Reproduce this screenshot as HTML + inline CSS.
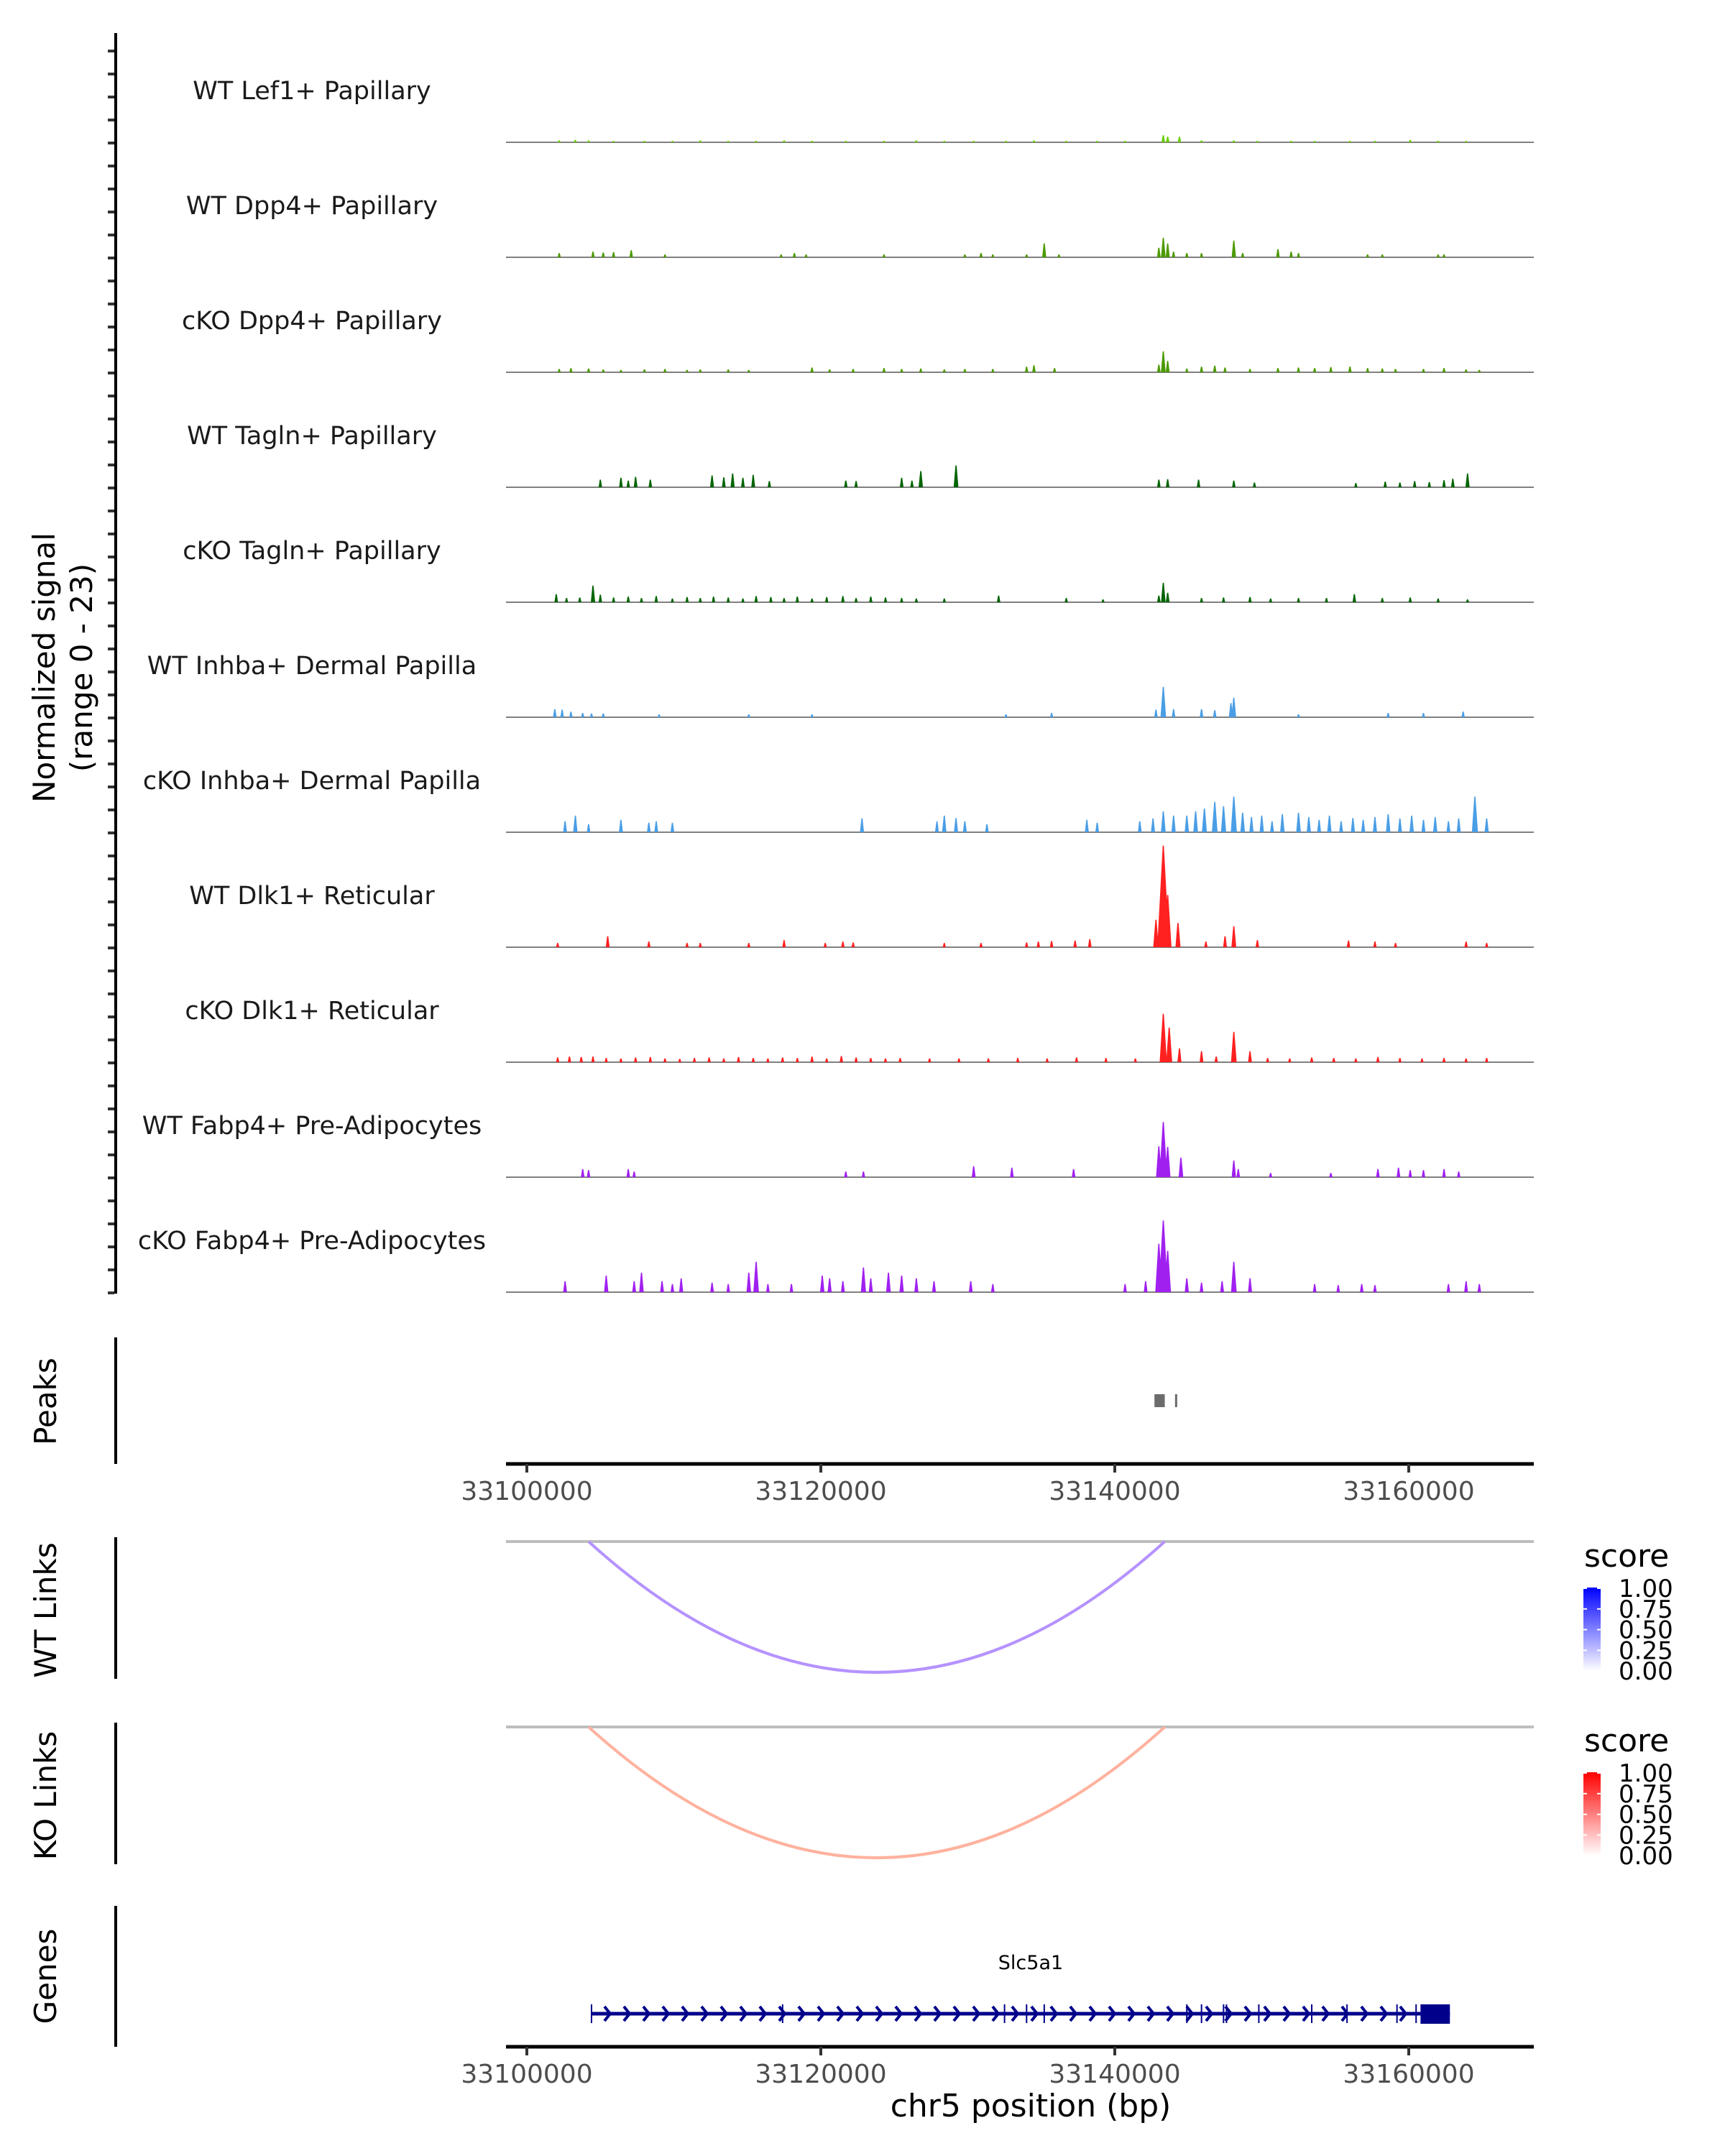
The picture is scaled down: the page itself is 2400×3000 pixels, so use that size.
<!DOCTYPE html>
<html><head><meta charset="utf-8"><style>
html,body{margin:0;padding:0;background:#fff}
svg{display:block;font-family:"DejaVu Sans","Liberation Sans",sans-serif}
</style></head><body>
<svg id="chart" width="2400" height="3000" viewBox="0 0 2400 3000" xmlns="http://www.w3.org/2000/svg">
<defs>
<linearGradient id="gBlue" x1="0" y1="1" x2="0" y2="0"><stop offset="0" stop-color="#ffffff"/><stop offset="1" stop-color="#0000ff"/></linearGradient>
<linearGradient id="gRed" x1="0" y1="1" x2="0" y2="0"><stop offset="0" stop-color="#ffffff"/><stop offset="1" stop-color="#ff0000"/></linearGradient>
</defs>
<g id="tracks"></g>
<text transform="translate(76,929) rotate(-90)" text-anchor="middle" font-size="42" fill="#000">Normalized signal</text>
<text transform="translate(128,929) rotate(-90)" text-anchor="middle" font-size="42" fill="#000">(range 0 - 23)</text>
<g id="peaks"></g>
<g id="links"></g>
<g id="genes"></g>
</svg>
<script>
// ---- data ----
const trackNames = ["WT Lef1+ Papillary","WT Dpp4+ Papillary","cKO Dpp4+ Papillary","WT Tagln+ Papillary","cKO Tagln+ Papillary","WT Inhba+ Dermal Papilla","cKO Inhba+ Dermal Papilla","WT Dlk1+ Reticular","cKO Dlk1+ Reticular","WT Fabp4+ Pre-Adipocytes","cKO Fabp4+ Pre-Adipocytes"];
const trackColors = ["#66cc00","#4c9a00","#4c9a00","#006400","#006400","#4a9ee6","#4a9ee6","#ff2020","#ff2020","#a020f0","#a020f0"];
// peak positions in kb offset from 33,100,000 and heights in normalized signal
const pos0 = [2.2,3.3,4.2,5.9,8.0,9.9,11.8,13.7,15.6,17.5,19.4,21.7,24.3,26.5,28.4,30.4,32.6,34.5,36.7,38.8,40.7,43.3,43.6,44.4,45.9,48.1,49.7,52.0,53.6,56.0,57.7,60.1,62.0,63.9];
const val0 = [0.4,0.5,0.4,0.3,0.3,0.3,0.4,0.3,0.3,0.4,0.3,0.3,0.3,0.4,0.3,0.3,0.3,0.4,0.3,0.3,0.3,1.5,1.2,1.2,0.4,0.4,0.3,0.3,0.3,0.3,0.3,0.5,0.3,0.3];
const pos1 = [2.2,4.5,5.2,5.9,7.1,9.4,17.3,18.2,19.0,24.3,29.8,30.9,31.7,34.0,35.2,36.2,43.0,43.3,43.6,44.0,44.9,45.9,48.1,48.7,51.1,52.0,52.5,57.2,58.2,62.0,62.4];
const val1 = [0.9,1.2,1.0,1.1,1.5,0.6,0.6,0.9,0.6,0.6,0.6,0.9,0.6,0.6,2.9,0.6,2.0,4.1,2.9,1.2,0.9,0.9,3.5,0.9,1.7,1.2,0.9,0.6,0.6,0.6,0.6];
const pos2 = [2.2,3.0,4.2,5.2,6.4,8.0,9.4,10.9,11.8,13.7,15.1,19.4,20.6,22.2,24.3,25.5,26.8,28.4,29.8,31.7,34.0,34.5,35.9,43.0,43.3,43.6,44.9,45.9,46.8,47.5,49.2,51.1,52.5,53.6,54.7,56.0,57.2,58.2,59.1,61.0,62.4,63.9,64.8];
const val2 = [0.7,0.9,0.8,0.6,0.5,0.6,0.7,0.5,0.6,0.6,0.5,1.0,0.6,0.7,0.9,0.7,0.8,0.6,0.7,0.7,1.2,1.5,0.9,1.6,4.4,2.4,0.8,1.2,1.4,1.0,0.7,0.9,1.0,0.9,1.1,1.2,0.9,0.8,0.7,0.7,0.9,0.6,0.5];
const pos3 = [5.0,6.4,6.9,7.4,8.4,12.6,13.4,14.0,14.7,15.4,16.5,21.7,22.4,25.5,26.2,26.8,29.2,43.0,43.6,45.7,48.1,49.5,56.4,58.4,59.4,60.4,61.4,62.4,63.0,64.0];
const val3 = [1.6,2.0,1.4,2.2,1.6,2.5,2.1,2.9,2.0,2.6,1.3,1.4,1.3,2.0,1.4,3.4,4.6,1.6,1.7,1.6,1.4,1.0,0.9,1.2,1.0,1.3,1.1,1.5,1.8,2.9];
const pos4 = [2.0,2.7,3.6,4.5,5.0,5.9,6.9,7.8,8.8,9.9,10.9,11.8,12.7,13.7,14.7,15.6,16.6,17.5,18.4,19.4,20.4,21.5,22.4,23.4,24.4,25.5,26.5,28.4,32.1,36.7,39.2,43.0,43.3,43.6,45.9,47.4,49.2,50.6,52.5,54.4,56.3,58.2,60.1,62.0,64.0];
const val4 = [1.7,0.9,1.0,3.5,1.6,1.0,1.2,0.9,1.3,0.8,1.1,0.9,1.2,1.0,0.8,1.3,1.1,0.9,1.2,0.8,1.1,1.3,0.9,1.2,1.0,0.9,0.8,0.8,1.4,0.9,0.6,1.4,4.1,2.0,0.9,1.0,1.1,0.8,0.9,0.9,1.7,0.9,1.0,0.8,0.6];
const pos5 = [1.9,2.4,3.0,3.8,4.4,5.2,9.0,15.1,19.4,32.6,35.7,42.8,43.3,44.0,45.9,46.8,47.9,48.1,52.5,58.6,61.0,63.7];
const val5 = [1.7,1.6,1.2,0.9,0.8,0.8,0.6,0.6,0.6,0.6,0.9,1.6,6.4,1.7,1.7,1.5,3.0,4.1,0.6,0.9,0.9,1.2];
const pos6 = [2.6,3.3,4.2,6.4,8.3,8.8,9.9,22.8,27.9,28.4,29.2,29.8,31.3,38.1,38.8,41.7,42.6,43.3,44.0,44.9,45.5,46.1,46.8,47.4,48.1,48.7,49.3,50.0,50.7,51.4,52.5,53.2,53.9,54.6,55.4,56.2,56.9,57.7,58.6,59.4,60.2,61.0,61.8,62.7,63.4,64.5,65.3];
const val6 = [2.3,3.5,1.7,2.6,2.0,2.3,2.0,2.9,2.3,3.5,3.0,2.3,1.7,2.6,2.0,2.3,2.9,4.4,3.5,3.5,4.4,5.0,6.4,5.5,7.5,4.1,3.2,3.5,2.3,3.8,4.1,3.2,2.6,3.5,2.3,3.0,2.6,3.2,3.8,2.9,3.5,2.6,3.2,2.3,2.9,7.5,2.9];
const pos7 = [2.1,5.5,8.3,10.9,11.8,15.1,17.5,20.3,21.5,22.2,28.4,30.9,34.0,34.8,35.7,37.3,38.3,42.8,43.3,43.6,44.3,46.2,47.5,48.1,49.7,55.9,57.7,59.1,63.9,65.3];
const val7 = [0.9,2.3,1.2,0.9,0.9,0.9,1.5,0.9,1.2,1.0,0.9,0.9,1.0,1.2,1.3,1.4,1.7,5.8,21.4,11.0,5.1,1.2,2.3,4.4,1.5,1.4,1.2,0.9,1.2,0.9];
const pos8 = [2.1,2.9,3.7,4.5,5.4,6.4,7.4,8.4,9.4,10.4,11.4,12.4,13.4,14.4,15.4,16.4,17.4,18.4,19.4,20.4,21.4,22.4,23.4,24.4,25.4,27.4,29.4,31.4,33.4,35.4,37.4,39.4,41.4,43.3,43.7,44.4,45.9,46.9,48.1,49.2,50.4,51.9,53.4,54.9,56.4,57.9,59.4,60.9,62.4,63.9,65.3];
const val8 = [1.0,1.2,1.1,1.2,0.9,0.8,1.0,1.1,0.8,0.7,0.9,1.0,0.8,1.1,0.9,0.8,1.0,0.9,1.2,0.8,1.3,1.0,0.9,0.8,0.9,0.8,0.8,0.8,0.9,0.8,1.0,0.9,0.8,10.2,7.3,2.9,2.3,1.2,6.4,2.3,0.9,0.8,1.0,0.9,0.8,1.1,0.9,0.8,0.9,0.8,0.9];
const pos9 = [3.8,4.2,6.9,7.3,21.7,22.9,30.4,33.0,37.2,43.0,43.3,43.6,44.5,48.1,48.4,50.6,54.7,57.9,59.3,60.1,61.0,62.4,63.4];
const val9 = [1.7,1.5,1.7,1.2,1.2,1.2,2.3,2.0,1.7,6.5,11.6,6.4,4.1,3.5,1.7,0.9,0.9,1.7,2.0,1.5,1.5,1.7,1.2];
const pos10 = [2.6,5.4,7.3,7.8,9.2,9.9,10.5,12.6,13.7,15.1,15.6,16.4,18.0,20.1,20.6,21.5,22.9,23.4,24.6,25.5,26.5,27.7,30.2,31.7,40.7,42.1,43.0,43.3,43.6,44.9,45.9,47.3,48.1,49.2,53.6,55.2,56.8,57.7,62.7,63.9,64.8];
const val10 = [2.3,3.5,2.3,4.1,2.3,1.7,2.9,2.0,1.7,4.1,6.4,1.7,1.7,3.5,2.9,2.3,5.2,2.9,4.1,3.5,2.9,2.3,2.3,1.7,1.7,2.3,10.2,15.1,8.7,2.9,2.0,2.3,6.4,2.9,1.7,1.5,1.7,1.5,1.7,2.3,1.7];
const trackPos = [pos0,pos1,pos2,pos3,pos4,pos5,pos6,pos7,pos8,pos9,pos10];
const trackVal = [val0,val1,val2,val3,val4,val5,val6,val7,val8,val9,val10];
const xTicks = [0,20,40,60];
const xTickLabels = ["33100000","33120000","33140000","33160000"];
const peakStarts = [42.7,44.1];
const peakEnds = [43.4,44.2];
const linkStarts = [4.2];
const linkEnds = [43.4];
const legendTicks = ["1.00","0.75","0.50","0.25","0.00"];
const geneStart = 4.4, geneEnd = 62.8, utrStart = 60.8;
const exonLines = [4.4,17.4,32.5,34.0,35.2,44.9,45.9,47.4,47.6,49.8,53.4,55.8,59.2,60.5];

// ---- scales ----
const X0 = 733, PXKB = 20.45;
const xs = kb => X0 + kb * PXKB;
const YMAX = 23, TRACKH = 152;
const ys = (v, base) => base - v / YMAX * TRACKH;
const NS = "http://www.w3.org/2000/svg";
function mk(tag, attrs, parent){const e=document.createElementNS(NS,tag);for(const k in attrs)e.setAttribute(k,attrs[k]);parent.appendChild(e);return e;}

// ---- signal tracks ----
const tg = document.getElementById('tracks');
const ax = mk('line',{x1:161,y1:46,x2:161,y2:1800,stroke:'#000','stroke-width':4},tg);


for(let y=71;y<=1800;y+=32){
  const t=mk('line',{x1:150,y1:y,x2:159,y2:y,stroke:'#333','stroke-width':4},tg);
  
  
}
trackNames.forEach((name,i)=>{
  const base = 198 + 160*i;
  const g = mk('g',{},tg);
  
  
  const lab = mk('text',{x:434,y:base-60,'text-anchor':'middle','font-size':35,fill:'#1a1a1a'},g);
  lab.textContent = name;
  
  
  const bl = mk('line',{x1:704,y1:base,x2:2134,y2:base,stroke:'#808080','stroke-width':2},g);
  
  
  const P = trackPos[i], V = trackVal[i];
  let d='';
  for(let j=0;j<P.length;j++){
    const x=xs(P[j]), y=ys(V[j],base), w=2+V[j]*0.3;
    d+=`M${(x-w).toFixed(1)},${base} L${(x-0.8).toFixed(1)},${y.toFixed(1)} L${(x+0.8).toFixed(1)},${y.toFixed(1)} L${(x+w).toFixed(1)},${base} Z `;
  }
  const p = mk('path',{d:d,fill:trackColors[i]},g);
  
  
});

// ---- peaks ----
const pg = document.getElementById('peaks');
const pl = mk('line',{x1:161,y1:1861,x2:161,y2:2037,stroke:'#000','stroke-width':4},pg);


const pt = mk('text',{transform:'translate(78,1950) rotate(-90)','text-anchor':'middle','font-size':42,fill:'#000'},pg);
pt.textContent='Peaks';


peakStarts.forEach((s,i)=>{
  const r=mk('rect',{x:xs(s),y:1940,width:Math.max(3,xs(peakEnds[i])-xs(s)),height:18,fill:'#6b6b6b'},pg);
  
  
});
function xAxis(y, parent){
  const l=mk('line',{x1:704,y1:y,x2:2134,y2:y,stroke:'#000','stroke-width':5},parent);
  
  
  xTicks.forEach((t,i)=>{
    const tk=mk('line',{x1:xs(t),y1:y,x2:xs(t),y2:y+12,stroke:'#333','stroke-width':4},parent);
    
    
    const tl=mk('text',{x:xs(t),y:y+50,'text-anchor':'middle','font-size':36,fill:'#4d4d4d'},parent);
    tl.textContent=xTickLabels[i];
    
    
  });
}
xAxis(2037, pg);

// ---- links ----
const lg = document.getElementById('links');
function linkPanel(top, bottom, title, arcColor, grad, legendY){
  const a=mk('line',{x1:161,y1:top-6,x2:161,y2:bottom,stroke:'#000','stroke-width':4},lg);
  
  
  const t=mk('text',{transform:`translate(78,${(top+bottom)/2}) rotate(-90)`,'text-anchor':'middle','font-size':42,fill:'#000'},lg);
  t.textContent=title;
  
  
  const gl=mk('line',{x1:704,y1:top,x2:2134,y2:top,stroke:'#bebebe','stroke-width':4},lg);
  
  
  linkStarts.forEach((s,i)=>{
    const x1=xs(s), x2=xs(linkEnds[i]), depth=182;
    const arc=mk('path',{d:`M${x1},${top} Q${(x1+x2)/2},${top+2*depth} ${x2},${top}`,fill:'none',stroke:arcColor,'stroke-width':4},lg);
    
    
  });
  const st=mk('text',{x:2204,y:legendY,'font-size':44,fill:'#000'},lg);
  st.textContent='score';
  
  
  const cb=mk('rect',{x:2203,y:legendY+29,width:24,height:116,fill:`url(#${grad})`},lg);
  
  
  legendTicks.forEach((lt,i)=>{
    const yy=legendY+30+i*28.8;
    const w=mk('line',{x1:2203,y1:yy,x2:2208,y2:yy,stroke:'#fff','stroke-width':2},lg);
    
    
    const w2=mk('line',{x1:2222,y1:yy,x2:2227,y2:yy,stroke:'#fff','stroke-width':2},lg);
    
    
    const tx=mk('text',{x:2252,y:yy+12,'font-size':34,fill:'#000'},lg);
    tx.textContent=lt;
    
    
  });
}
linkPanel(2145, 2336, 'WT Links', '#b592ff', 'gBlue', 2180);
linkPanel(2403, 2594, 'KO Links', '#ffb29e', 'gRed', 2437);

// ---- genes ----
const gg = document.getElementById('genes');
const ga=mk('line',{x1:161,y1:2652,x2:161,y2:2848,stroke:'#000','stroke-width':4},gg);


const gt=mk('text',{transform:'translate(78,2750) rotate(-90)','text-anchor':'middle','font-size':42,fill:'#000'},gg);
gt.textContent='Genes';


const gn=mk('text',{x:1434,y:2740,'text-anchor':'middle','font-size':27,fill:'#000'},gg);
gn.textContent='Slc5a1';


const gline=mk('line',{x1:xs(geneStart),y1:2802,x2:xs(geneEnd),y2:2802,stroke:'#00008b','stroke-width':5},gg);


for(let x=xs(geneStart)+22;x<xs(utrStart)-10;x+=27){
  const ch=mk('path',{d:`M${x-4},${2792} L${x+4},${2802} L${x-4},${2812}`,fill:'none',stroke:'#00008b','stroke-width':4},gg);
  
  
}
exonLines.forEach(e=>{
  const el=mk('line',{x1:xs(e),y1:2789,x2:xs(e),y2:2815,stroke:'#00008b','stroke-width':2},gg);
  
  
});
const utr=mk('rect',{x:xs(utrStart),y:2789,width:xs(geneEnd)-xs(utrStart),height:27,fill:'#00008b'},gg);


xAxis(2848, gg);
const xt=mk('text',{x:1434,y:2945,'text-anchor':'middle','font-size':44,fill:'#000'},gg);
xt.textContent='chr5 position (bp)';


</script>
</body></html>
